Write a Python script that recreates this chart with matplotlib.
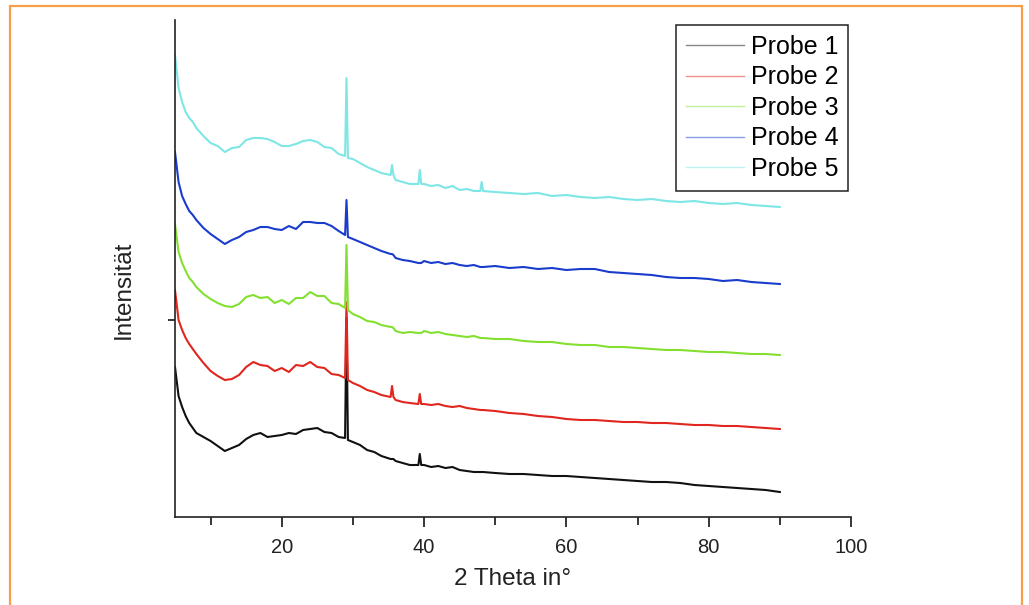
#! /usr/bin/python
# -*- coding: utf-8 -*-
import numpy as np
import matplotlib
matplotlib.use("Agg")
import matplotlib.pyplot as plt
from matplotlib.lines import Line2D
from matplotlib.patches import Rectangle

plt.rcParams['font.family'] = ['Liberation Sans', 'DejaVu Sans']

# 2 Theta positions (deg), shared by all five patterns
two_theta = [5, 5.5, 6, 6.5, 7, 7.5, 8, 9, 10, 11, 12, 13, 14, 15, 16, 17, 18,
             19, 20, 21, 22, 23, 24, 25, 26, 27, 28, 28.9, 29.1, 29.3, 30, 31,
             32, 33, 34, 35.3, 35.5, 35.7, 36, 37, 38, 39.2, 39.4, 39.6, 40,
             41, 42, 43, 44, 45, 46, 47, 47.9, 48.1, 48.3,
             50, 52, 54, 56, 58, 60, 62, 64, 66, 68, 70, 72, 74, 76, 78, 80, 82,
             84, 86, 88, 90]

# intensities (arb. units, patterns stacked with offsets)
probe1 = [150, 121, 110, 101, 94, 89, 84, 80, 76, 71, 66, 69, 72, 78, 82, 84,
          80, 81, 82, 84, 83, 87, 88, 89, 85, 84, 80, 79, 199, 77, 75, 72, 67,
          65, 61, 58, 58, 58, 56, 54, 52, 52, 63, 52, 52, 50, 51, 49, 50, 47,
          46, 45, 45, 45, 45, 44,
          43, 43, 42, 41, 41, 40, 39, 38, 37, 36, 35, 35, 34, 32, 31, 30, 29,
          28, 27, 25]
probe2 = [227, 197, 187, 179, 173, 168, 163, 154, 146, 141, 137, 138, 142, 150,
          155, 152, 151, 146, 149, 145, 152, 151, 155, 150, 149, 143, 142, 139,
          215, 137, 134, 131, 127, 125, 122, 120, 131, 120, 117, 115, 114, 113,
          123, 113, 113, 112, 113, 111, 110, 111, 109, 108, 107, 107, 107,
          106, 104, 103, 101, 100, 98, 97, 97, 96, 95, 95, 94, 94, 93, 92, 92,
          91, 91, 90, 89, 88]
probe3 = [293, 265, 254, 246, 239, 235, 230, 223, 218, 214, 211, 210, 213, 220,
          222, 219, 220, 214, 217, 213, 219, 219, 225, 221, 221, 214, 213, 209,
          272, 207, 203, 200, 196, 195, 192, 190, 190, 189, 186, 184, 185, 184,
          184, 184, 186, 184, 185, 183, 182, 181, 180, 181, 179, 179, 179,
          178, 178, 176, 175, 175, 173, 172, 172, 170, 170, 169, 168, 167, 167,
          166, 165, 165, 164, 163, 163, 162]
probe4 = [365, 335, 321, 313, 306, 302, 297, 289, 283, 278, 273, 277, 280, 285,
          287, 290, 290, 288, 287, 291, 288, 295, 295, 294, 294, 291, 286, 282,
          317, 280, 278, 275, 272, 269, 266, 263, 263, 262, 259, 257, 256, 254,
          254, 254, 256, 254, 255, 253, 254, 252, 251, 252, 250, 250, 250,
          251, 249, 250, 248, 249, 247, 248, 248, 245, 244, 243, 242, 240, 239,
          239, 238, 236, 237, 235, 234, 233]
probe5 = [462, 429, 415, 405, 399, 395, 389, 381, 374, 371, 365, 369, 370, 377,
          379, 379, 378, 375, 371, 371, 373, 376, 377, 375, 370, 369, 363, 361,
          439, 359, 358, 354, 350, 347, 344, 342, 352, 342, 337, 335, 333, 333,
          347, 333, 333, 331, 332, 329, 331, 327, 328, 326, 326, 335, 326,
          325, 324, 323, 324, 321, 322, 320, 319, 320, 318, 317, 318, 316, 315,
          316, 314, 313, 314, 312, 311, 310]

labels = ["Probe 1", "Probe 2", "Probe 3", "Probe 4", "Probe 5"]
colors = ["#111111", "#e0261e", "#84e030", "#1a3ccc", "#7fe6e6"]

fig = plt.figure(figsize=(10.29, 6.05), dpi=100)
ax = fig.add_axes([0.17007, 0.14545, 0.65695, 0.82149])

for ydata, c in zip([probe1, probe2, probe3, probe4, probe5], colors):
    ax.plot(two_theta, ydata, color=c, linewidth=1.5)

ax.set_xlim(5, 100)
ax.set_ylim(0, 497)
ax.set_xticks([20, 40, 60, 80, 100])
ax.xaxis.set_minor_locator(matplotlib.ticker.MultipleLocator(10))
ax.set_yticks([197])
ax.set_yticklabels([])
ax.tick_params(axis='x', which='major', direction='out', length=7, width=1.1,
               labelsize=14.5, labelcolor='#222222', pad=8)
ax.tick_params(axis='x', which='minor', direction='out', length=5.5, width=1.1)
ax.tick_params(axis='y', direction='out', length=5, width=1.1)
for side in ['top', 'right']:
    ax.spines[side].set_visible(False)
for side in ['left', 'bottom']:
    ax.spines[side].set_linewidth(1.2)
    ax.spines[side].set_color('#222222')

ax.set_xlabel(u"2 Theta in\u00b0", fontsize=17.5, color='#222222')
ax.xaxis.set_label_coords(0.5, -0.103)
ax.set_ylabel(u"Intensit\u00e4t", fontsize=17.5, color='#222222')
ax.yaxis.set_label_coords(-0.059, 0.457)

# legend lines look pale in the original
handles = [Line2D([], [], color=c, linewidth=1.0, alpha=0.5) for c in colors]
leg = ax.legend(handles, labels, loc='upper right', bbox_to_anchor=(0.996, 0.99),
                borderaxespad=0, fontsize=18, fancybox=False, framealpha=1,
                edgecolor='#222222', labelspacing=0.26, handlelength=2.3,
                handletextpad=0.28, borderpad=0.4)
leg.get_frame().set_linewidth(1.1)

# orange frame around the figure
fig.patches.append(Rectangle((0.0097, -0.05), 0.9835, 1.04,
                             transform=fig.transFigure, fill=False,
                             edgecolor='#f7a04a', linewidth=1.6))

fig.savefig("out.png", dpi=100)
